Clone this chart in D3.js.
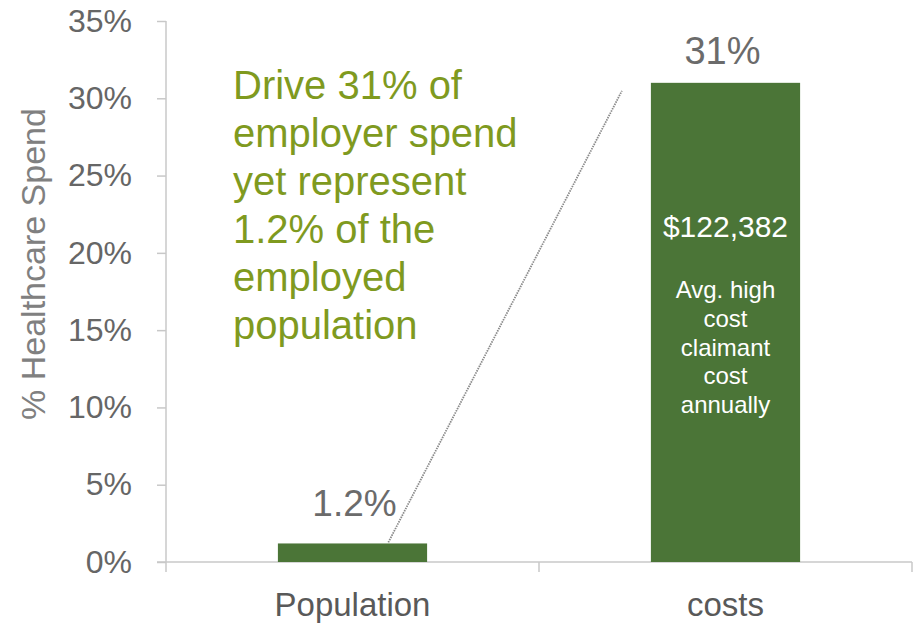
<!DOCTYPE html>
<html>
<head>
<meta charset="utf-8">
<script src="https://cdn.jsdelivr.net/npm/d3@7"></script>
<style>
  html, body { margin: 0; padding: 0; background: #fff; }
  svg { display: block; font-family: "Liberation Sans", Arial, sans-serif; }
</style>
</head>
<body>
<svg id="chart" width="922" height="624"></svg>
<script>
// Share of healthcare spend: high-cost claimants vs. their share of the population
const categories = ["Population", "costs"];
const values = [1.2, 31];
const valueLabels = ["1.2%", "31%"];
const yTicks = [0, 5, 10, 15, 20, 25, 30, 35];
const yTitle = "% Healthcare Spend";
const calloutLines = ["Drive 31% of", "employer spend", "yet represent", "1.2% of the", "employed", "population"];
const barAmount = "$122,382";
const barNoteLines = ["Avg. high", "cost", "claimant", "cost", "annually"];

const svg = d3.select("#chart");
const margin = { left: 166, right: 10, top: 21, bottom: 62 };
const W = 922, H = 624;

const x = d3.scaleBand()
  .domain(categories)
  .range([margin.left, W - margin.right])
  .paddingInner(0.6)
  .paddingOuter(0.3);

const y = d3.scaleLinear()
  .domain([0, 35])
  .range([H - margin.bottom, margin.top]);

const axisColor = "#c8c8c8";
const labelColor = "#666666";

// Y axis
const yAxis = svg.append("g")
  .attr("transform", `translate(${margin.left},0)`)
  .call(d3.axisLeft(y).tickValues(yTicks).tickFormat(d => d + "%").tickSize(9).tickPadding(25));
yAxis.select(".domain").remove();
yAxis.selectAll(".tick line").attr("stroke", axisColor).attr("stroke-width", 1.5);
yAxis.selectAll(".tick text")
  .attr("fill", labelColor)
  .style("font-size", "32px")
  .style("font-family", "'Liberation Sans', Arial, sans-serif");

// vertical axis line, continuing slightly below the baseline
svg.append("line")
  .attr("x1", margin.left).attr("x2", margin.left)
  .attr("y1", y(35)).attr("y2", y(0) + 10)
  .attr("stroke", axisColor).attr("stroke-width", 1.5);

// X axis baseline and category separator ticks
svg.append("line")
  .attr("x1", margin.left - 9).attr("x2", W - margin.right)
  .attr("y1", y(0)).attr("y2", y(0))
  .attr("stroke", axisColor).attr("stroke-width", 1.5);
const step = x.step();
const sepX = categories.map(c => x(c) + x.bandwidth() / 2 + step / 2);
sepX.forEach(sx => {
  svg.append("line")
    .attr("x1", sx).attr("x2", sx)
    .attr("y1", y(0)).attr("y2", y(0) + 10)
    .attr("stroke", axisColor).attr("stroke-width", 1.5);
});

// Category labels
svg.selectAll(".cat")
  .data(categories)
  .join("text")
  .attr("class", "cat")
  .attr("x", d => x(d) + x.bandwidth() / 2)
  .attr("y", y(0) + 54)
  .attr("text-anchor", "middle")
  .attr("fill", "#595959")
  .style("font-size", "33px")
  .text(d => d);

// Y axis title
svg.append("text")
  .attr("transform", `translate(45,264) rotate(-90)`)
  .attr("text-anchor", "middle")
  .attr("fill", "#808080")
  .style("font-size", "34px")
  .text(yTitle);

// Bars
const barColor = "#4b7537";
svg.selectAll(".bar")
  .data(values)
  .join("rect")
  .attr("class", "bar")
  .attr("x", (d, i) => x(categories[i]))
  .attr("width", x.bandwidth())
  .attr("y", d => y(d))
  .attr("height", d => y(0) - y(d))
  .attr("fill", barColor);

// Dotted connector from the population bar up toward the costs bar
svg.append("line")
  .attr("x1", x(categories[0]) + x.bandwidth() * 0.74)
  .attr("y1", y(values[0]) - 1)
  .attr("x2", x(categories[1]) - 29)
  .attr("y2", y(values[1]) + 8)
  .attr("stroke", "#8a8a8a")
  .attr("stroke-width", 1.8)
  .attr("stroke-dasharray", "1.5,1");

// Value labels above bars
svg.append("text")
  .attr("x", x(categories[0]) + x.bandwidth() / 2 + 2)
  .attr("y", y(values[0]) - 27)
  .attr("text-anchor", "middle")
  .attr("fill", "#6b6b6b")
  .style("font-size", "37px")
  .text(valueLabels[0]);
svg.append("text")
  .attr("x", x(categories[1]) + x.bandwidth() / 2 - 3)
  .attr("y", y(values[1]) - 19)
  .attr("text-anchor", "middle")
  .attr("fill", "#6b6b6b")
  .style("font-size", "38px")
  .text(valueLabels[1]);

// Callout text
svg.append("g")
  .selectAll("text")
  .data(calloutLines)
  .join("text")
  .attr("x", 233)
  .attr("y", (d, i) => 99 + i * 48)
  .attr("fill", "#7f9a1f")
  .style("font-size", "40px")
  .text(d => d);

// Text inside the costs bar
const cx = x(categories[1]) + x.bandwidth() / 2;
svg.append("text")
  .attr("x", cx)
  .attr("y", 237)
  .attr("text-anchor", "middle")
  .attr("fill", "#ffffff")
  .style("font-size", "30px")
  .text(barAmount);
svg.append("g")
  .selectAll("text")
  .data(barNoteLines)
  .join("text")
  .attr("x", cx)
  .attr("y", (d, i) => 298 + i * 28.8)
  .attr("text-anchor", "middle")
  .attr("fill", "#ffffff")
  .style("font-size", "24px")
  .text(d => d);
</script>
</body>
</html>
